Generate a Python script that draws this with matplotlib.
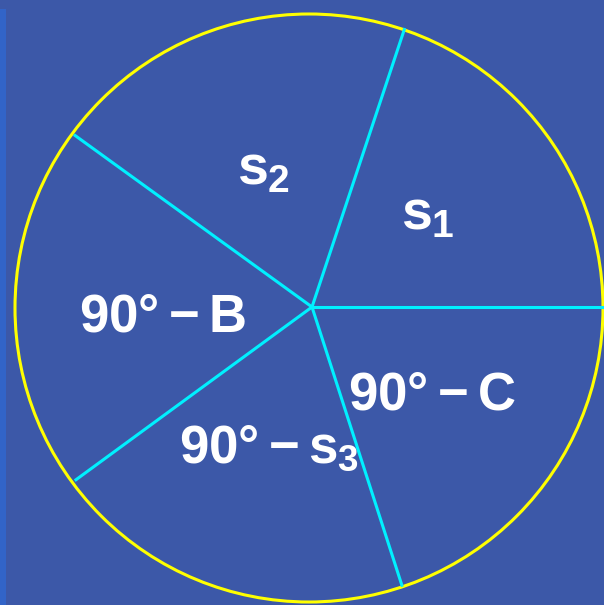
import numpy as np
import matplotlib
matplotlib.use("Agg")
import matplotlib.pyplot as plt
from matplotlib.patches import Circle, Rectangle

# spoke directions (degrees, counter-clockwise from +x)
SPOKE_ANGLES = [0.0, 71.6, 144.1, 216.2, 287.9]

# sector labels and where they sit (pixel coords, y down)
LABELS = [r"$s_1$", r"$s_2$", r"$90°-B$", r"$90°-C$", r"$90°-s_3$"]
LABEL_X = [428, 263, 162, 432, 269]
LABEL_Y = [229, 184, 331, 410, 463]
LABEL_SIZE = [40, 40, 38, 38, 38]

BG = "#3c58a8"
STRIP = "#3264c8"
YELLOW = "#ffff00"
CYAN = "#00f0ff"

W, H = 604, 605
CIRCLE_C = (309, 308)
CIRCLE_R = 294
HUB = (312, 307)

plt.rcParams["font.family"] = ["Liberation Sans", "DejaVu Sans"]
plt.rcParams["mathtext.fontset"] = "custom"
plt.rcParams["mathtext.rm"] = "Liberation Sans:bold"
plt.rcParams["mathtext.it"] = "Liberation Sans:bold"
plt.rcParams["mathtext.bf"] = "Liberation Sans:bold"

fig = plt.figure(figsize=(W / 100, H / 100), dpi=100)
fig.patch.set_facecolor(BG)
ax = fig.add_axes([0, 0, 1, 1])
ax.set_facecolor(BG)
ax.set_xlim(0, W)
ax.set_ylim(H, 0)
ax.axis("off")

# bright strip on the left edge
ax.add_patch(Rectangle((0, 9), 5.5, H - 9, facecolor=STRIP, edgecolor="none"))

ax.add_patch(Circle(CIRCLE_C, CIRCLE_R, facecolor="none", edgecolor=YELLOW, lw=2.2))

for ang in SPOKE_ANGLES:
    a = np.radians(ang)
    r = CIRCLE_R + (30 if ang == 0 else 0)
    ax.plot([HUB[0], HUB[0] + r * np.cos(a)], [HUB[1], HUB[1] - r * np.sin(a)],
            color=CYAN, lw=2.2, solid_capstyle="butt")

for txt, x, y, fs in zip(LABELS, LABEL_X, LABEL_Y, LABEL_SIZE):
    ax.text(x, y, txt, color="white", fontsize=fs, ha="center", va="baseline")

fig.savefig("out.png", dpi=100, facecolor=BG)
